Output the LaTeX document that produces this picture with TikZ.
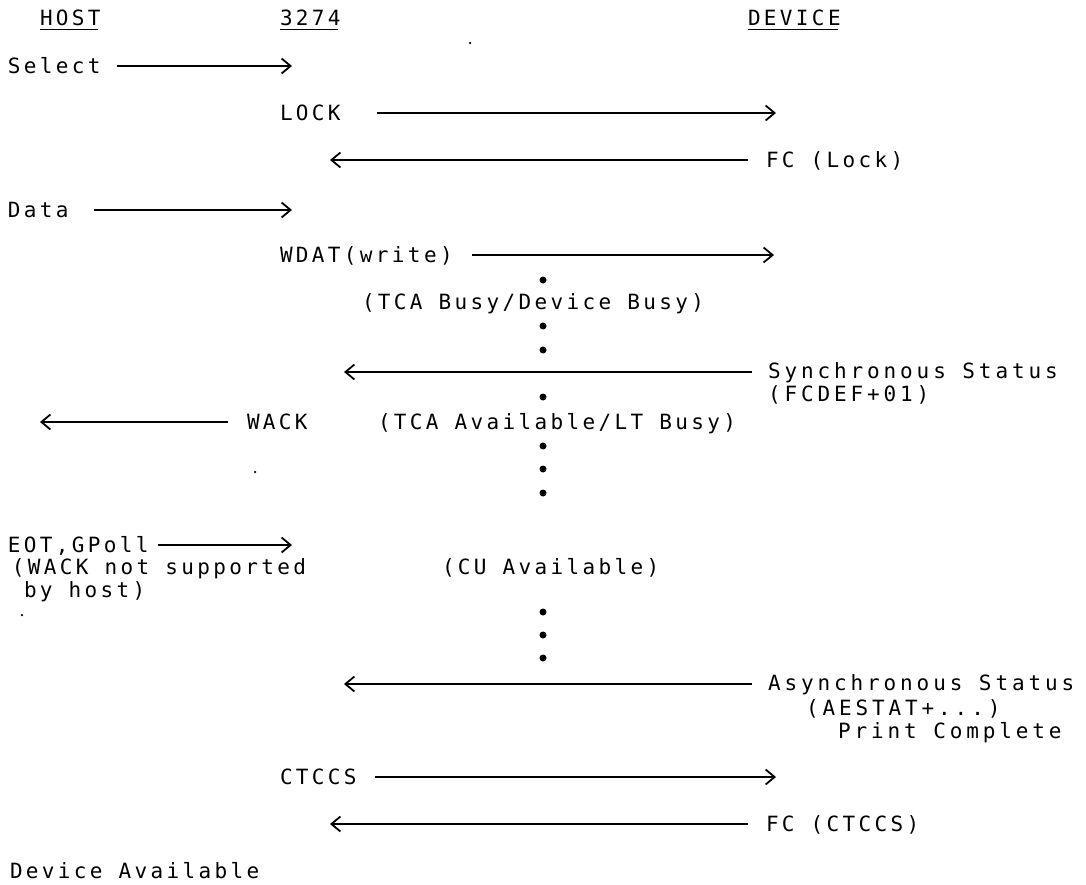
\documentclass[tikz,border=0pt]{standalone}
\usepackage{fontspec}
\newfontfamily\tw{DejaVu Sans Mono}[LetterSpace=16]
\newfontfamily\twwide{DejaVu Sans Mono}[LetterSpace=18.5]
\usetikzlibrary{arrows.meta}
\begin{document}
\begin{tikzpicture}[x=1pt,y=-1pt,
  txt/.style={anchor=base west,inner sep=0pt,outer sep=0pt,font={\fontsize{21}{25}\selectfont\tw}},
  wtxt/.style={txt,font={\fontsize{21}{25}\selectfont\twwide}},
  msg/.style={line width=1.5pt},
  fwd/.style={msg,-{Straight Barb[length=9pt,width=15pt,line width=1.8pt]}},
  bwd/.style={msg,{Straight Barb[length=9pt,width=15pt,line width=1.8pt]}-},
  waitdot/.style={circle,fill,inner sep=0pt,minimum size=7pt},
  speck/.style={circle,fill,inner sep=0pt,minimum size=2.5pt},
  uline/.style={line width=1.6pt}]
\useasboundingbox (0,0) rectangle (1086,885);
% headers
\node[txt] (host) at (40,25.6) {HOST};
\node[txt] (cu) at (280,25.6) {3274};
\node[txt] (dev) at (748,25.6) {DEVICE};
\foreach \n in {host,cu,dev}{
  \draw[uline] ([yshift=-4pt]\n.base west) -- ([yshift=-4pt,xshift=-3pt]\n.base east);
}
% Select
\node[txt] (select) at (8,73.6) {Select};
\coordinate (selA) at (117,66); \coordinate (selB) at (292,66);
\draw[fwd] (selA) -- (selB);
% LOCK
\node[txt] (lock) at (280,120.6) {LOCK};
\coordinate (lockA) at (377,113); \coordinate (lockB) at (776,113);
\draw[fwd] (lockA) -- (lockB);
% FC (Lock)
\node[txt] (fclock) at (766,167.6) {FC (Lock)};
\coordinate (fcA) at (330,160); \coordinate (fcB) at (748,160);
\draw[bwd] (fcA) -- (fcB);
% Data
\node[txt] (data) at (8,217.6) {Data};
\coordinate (datA) at (94,210); \coordinate (datB) at (292,210);
\draw[fwd] (datA) -- (datB);
% WDAT
\node[txt] (wdat) at (280,262.6) {WDAT(write)};
\coordinate (wdA) at (472,255); \coordinate (wdB) at (774,255);
\draw[fwd] (wdA) -- (wdB);
\node[waitdot] (d1) at (543,280) {};
\node[txt] (tcabusy) at (362,309.6) {(TCA Busy/Device Busy)};
\node[waitdot] (d2) at (543,326) {};
\node[waitdot] (d3) at (543,350) {};
% Synchronous status
\node[wtxt] (sync) at (768,378.6) {Synchronous Status};
\node[wtxt] (fcdef) at (768,401.6) {(FCDEF+01)};
\coordinate (syA) at (344,372); \coordinate (syB) at (752,372);
\draw[bwd] (syA) -- (syB);
\node[waitdot] (d4) at (543,397) {};
% WACK
\node[txt] (wack) at (247,429.6) {WACK};
\coordinate (wkA) at (40,422); \coordinate (wkB) at (228,422);
\draw[bwd] (wkA) -- (wkB);
\node[txt] (tcaavail) at (378,429.6) {(TCA Available/LT Busy)};
\node[waitdot] (d5) at (543,446) {};
\node[waitdot] (d6) at (543,469) {};
\node[waitdot] (d7) at (543,493) {};
% EOT
\node[txt] (eot) at (8,552.6) {EOT,GPoll};
\coordinate (eoA) at (158,545); \coordinate (eoB) at (292,545);
\draw[fwd] (eoA) -- (eoB);
\node[txt] (wacknot) at (12,574.6) {(WACK not supported};
\node[txt] (byhost) at (24,597.6) {by host)};
\node[txt] (cuavail) at (442,574.6) {(CU Available)};
\node[waitdot] (d8) at (543,612) {};
\node[waitdot] (d9) at (543,635) {};
\node[waitdot] (d10) at (543,658) {};
% Asynchronous status
\node[wtxt] (async) at (768,690.6) {Asynchronous Status};
\node[wtxt] (aestat) at (806,715.6) {(AESTAT+...)};
\node[wtxt] (print) at (838,738.6) {Print Complete};
\coordinate (asA) at (344,684); \coordinate (asB) at (752,684);
\draw[bwd] (asA) -- (asB);
% CTCCS
\node[txt] (ctccs) at (280,784.6) {CTCCS};
\coordinate (ctA) at (375,777); \coordinate (ctB) at (776,777);
\draw[fwd] (ctA) -- (ctB);
\node[txt] (fcct) at (766,831.6) {FC (CTCCS)};
\coordinate (fcctA) at (330,824); \coordinate (fcctB) at (748,824);
\draw[bwd] (fcctA) -- (fcctB);
% Device available
\node[txt] (devavail) at (10,878.6) {Device Available};
% specks
\node[speck] (s1) at (470,43) {};
\node[speck] (s2) at (255,472) {};
\node[speck] (s3) at (22,615) {};
\end{tikzpicture}
\end{document}
